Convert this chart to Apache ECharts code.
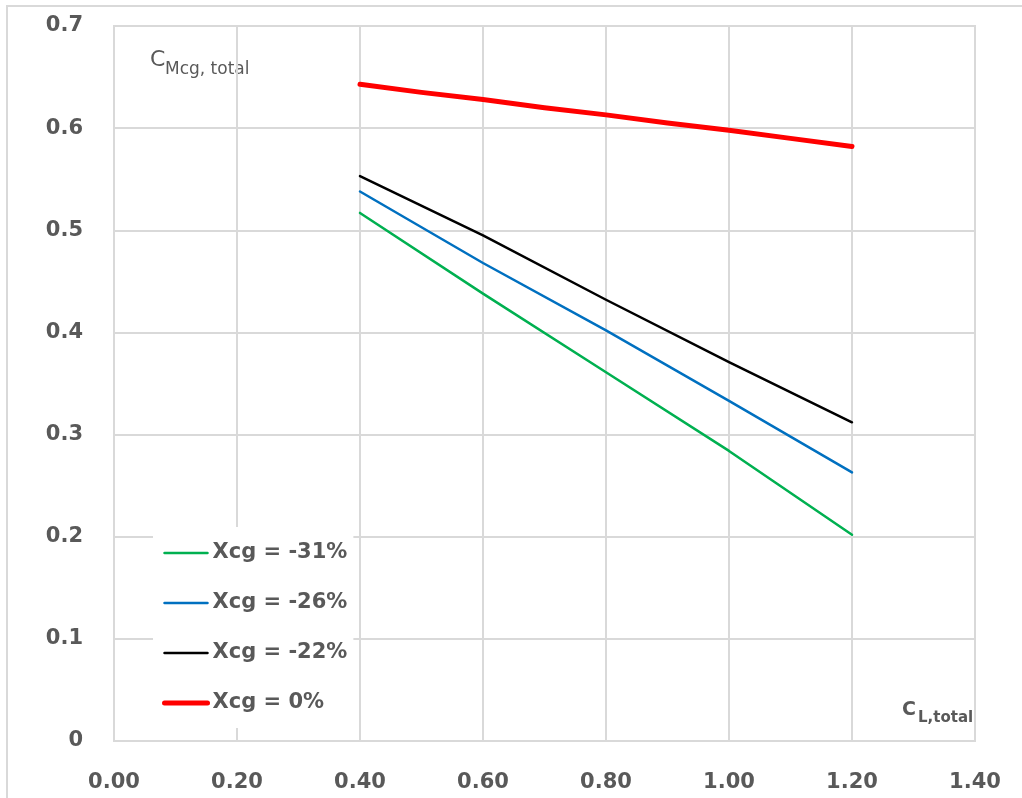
<!DOCTYPE html>
<html>
<head>
<meta charset="utf-8">
<script src="https://cdn.jsdelivr.net/npm/echarts@6/dist/echarts.min.js"></script>
<style>html,body{margin:0;padding:0;background:#fff}#c{width:1022px;height:798px}</style>
</head>
<body>
<div id="c"></div>
<script>
const xTicks = [0, 0.2, 0.4, 0.6, 0.8, 1.0, 1.2, 1.4];
const yTicks = [0, 0.1, 0.2, 0.3, 0.4, 0.5, 0.6, 0.7];
const clLinear = [0.4, 0.6, 0.8, 1.0, 1.2];
const green31 = [0.517, 0.438, 0.361, 0.284, 0.202];
const blue26 = [0.538, 0.468, 0.402, 0.333, 0.263];
const black22 = [0.553, 0.495, 0.432, 0.371, 0.312];
const clRed = [0.4, 0.5, 0.6, 0.7, 0.8, 0.9, 1.0, 1.1, 1.2];
const red0 = [0.643, 0.635, 0.628, 0.620, 0.613, 0.605, 0.598, 0.590, 0.582];
const names = ['Xcg = -31%', 'Xcg = -26%', 'Xcg = -22%', 'Xcg = 0%'];
const colors = ['#00b050', '#0070c0', '#000000', '#ff0000'];
const widths = [2.5, 2.5, 2.5, 5];

const pair = (xs, ys) => xs.map((x, i) => [x, ys[i]]);
const txt = '#595959';
const font = 'DejaVu Sans';
const seriesData = [pair(clLinear, green31), pair(clLinear, blue26), pair(clLinear, black22), pair(clRed, red0)];

const chart = echarts.init(document.getElementById('c'));
chart.setOption({
  animation: false,
  backgroundColor: '#fff',
  grid: { left: 114, right: 47, top: 26, bottom: 57, show: true, borderColor: '#d9d9d9', borderWidth: 2 },
  xAxis: {
    type: 'value', min: 0, max: 1.4, interval: 0.2,
    axisLine: { show: true, lineStyle: { color: '#d9d9d9', width: 2 } },
    axisTick: { show: false },
    splitLine: { show: true, lineStyle: { color: '#d9d9d9', width: 2 } },
    axisLabel: { margin: 31, color: txt, fontFamily: font, fontWeight: 'bold', fontSize: 21,
      formatter: v => v.toFixed(2) }
  },
  yAxis: {
    type: 'value', min: 0, max: 0.7, interval: 0.1,
    axisLine: { show: false },
    axisTick: { show: false },
    splitLine: { show: true, lineStyle: { color: '#d9d9d9', width: 2 } },
    axisLabel: { margin: 31, color: txt, fontFamily: font, fontWeight: 'bold', fontSize: 21,
      formatter: v => (v === 0 ? '0' : v.toFixed(1)) }
  },
  legend: {
    left: 153, top: 527, orient: 'vertical',
    backgroundColor: '#fff',
    padding: [13, 6, 12, 9],
    itemGap: 24, itemWidth: 43, itemHeight: 14, itemTextGap: 3,
    itemStyle: { color: 'transparent', borderWidth: 0 },
    textStyle: { color: txt, fontFamily: font, fontWeight: 'bold', fontSize: 21, lineHeight: 26 },
    data: names.map((n, i) => ({ name: n, itemStyle: { color: 'transparent', borderWidth: 0 }, lineStyle: { color: colors[i], width: widths[i], cap: 'round' } }))
  },
  series: names.map((n, i) => ({
    name: n, type: 'line', symbol: 'none', data: seriesData[i],
    lineStyle: { color: colors[i], width: widths[i], cap: 'round', join: 'round' },
    itemStyle: { color: colors[i] }
  })),
  graphic: [
    { type: 'rect', silent: true, z: -1, shape: { x: 7, y: 6, width: 1100, height: 900 }, style: { fill: 'none', stroke: '#d9d9d9', lineWidth: 2 } },
    { type: 'text', x: 150, y: 60, style: { text: 'C', fill: txt, font: '22px "DejaVu Sans"', verticalAlign: 'middle', align: 'left' } },
    { type: 'text', x: 165, y: 70, style: { text: 'Mcg, total', fill: txt, font: '17px "DejaVu Sans"', verticalAlign: 'middle', align: 'left' } },
    { type: 'text', x: 902, y: 710, style: { text: 'C', fill: txt, font: 'bold 19px "DejaVu Sans"', verticalAlign: 'middle', align: 'left' } },
    { type: 'text', x: 918, y: 718, style: { text: 'L,total', fill: txt, font: 'bold 15px "DejaVu Sans"', verticalAlign: 'middle', align: 'left' } }
  ]
});
</script>
</body>
</html>
